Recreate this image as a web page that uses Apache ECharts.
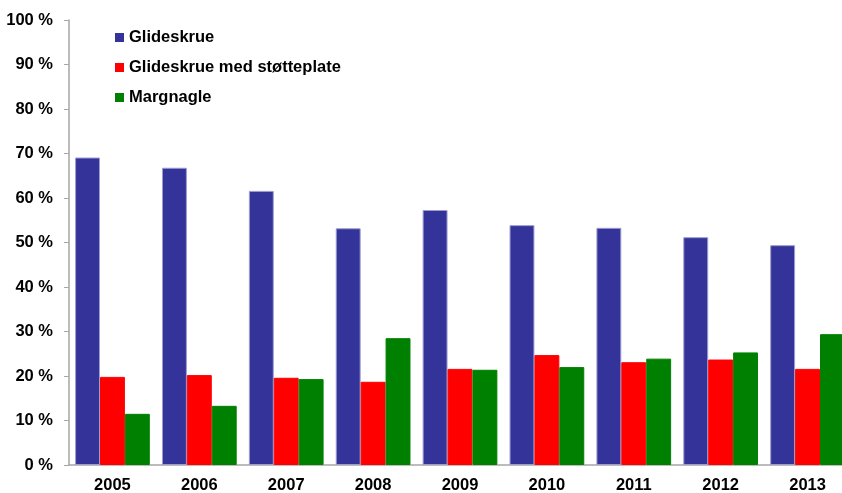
<!DOCTYPE html>
<html>
<head>
<meta charset="utf-8">
<script src="https://cdn.jsdelivr.net/npm/echarts@6/dist/echarts.min.js"></script>
<style>
  html, body { margin: 0; padding: 0; background: #fff; }
  #chart { width: 842px; height: 493px; }
</style>
</head>
<body>
<div id="chart"></div>
<script>
var years = ['2005', '2006', '2007', '2008', '2009', '2010', '2011', '2012', '2013'];
var glideskrue = [69.1, 66.8, 61.6, 53.2, 57.3, 53.9, 53.3, 51.2, 49.4];
var medStotteplate = [19.8, 20.2, 19.6, 18.7, 21.6, 24.7, 23.1, 23.7, 21.6];
var margnagle = [11.5, 13.3, 19.3, 28.5, 21.4, 22.0, 23.9, 25.3, 29.4];
var seriesNames = ['Glideskrue', 'Glideskrue med støtteplate', 'Margnagle'];

var colors = ['#333399', '#ff0000', '#008000'];
var font = '"Liberation Sans", Arial, sans-serif';

var myChart = echarts.init(document.getElementById('chart'));

function barSeries(name, data, border) {
    return {
        name: name,
        type: 'bar',
        barGap: '0%',
        barCategoryGap: '14%',
        itemStyle: { borderColor: border, borderWidth: 1 },
        data: data
    };
}

var option = {
    animation: false,
    color: colors,
    textStyle: { fontFamily: font },
    legend: {
        orient: 'vertical',
        left: 115,
        top: 29,
        padding: 0,
        itemWidth: 9,
        itemHeight: 9,
        itemGap: 13,
        icon: 'rect',
        itemStyle: { borderWidth: 0 },
        textStyle: { fontSize: 16.5, fontWeight: 'bold', color: '#000', fontFamily: font },
        data: seriesNames
    },
    grid: {
        left: 69,
        top: 20,
        bottom: 28,
        width: 782,
        outerBoundsMode: 'none',
        containLabel: false
    },
    xAxis: {
        type: 'category',
        data: years,
        axisLine: { lineStyle: { color: '#a6a6a6', width: 1.5 } },
        axisTick: { alignWithLabel: true, length: 5, lineStyle: { color: '#a6a6a6' } },
        axisLabel: { fontSize: 16.5, fontWeight: 'bold', color: '#000', margin: 12 }
    },
    yAxis: {
        type: 'value',
        min: 0,
        max: 100,
        interval: 10,
        splitLine: { show: false },
        axisLine: { show: true, lineStyle: { color: '#a6a6a6', width: 1.5 } },
        axisTick: { show: true, length: 5, lineStyle: { color: '#a6a6a6' } },
        axisLabel: { fontSize: 16.5, fontWeight: 'bold', color: '#000', margin: 16, formatter: '{value} %' }
    },
    series: [
        barSeries(seriesNames[0], glideskrue, '#9d9dd0'),
        barSeries(seriesNames[1], medStotteplate, '#ff0000'),
        barSeries(seriesNames[2], margnagle, '#008000')
    ]
};

myChart.setOption(option);
</script>
</body>
</html>
